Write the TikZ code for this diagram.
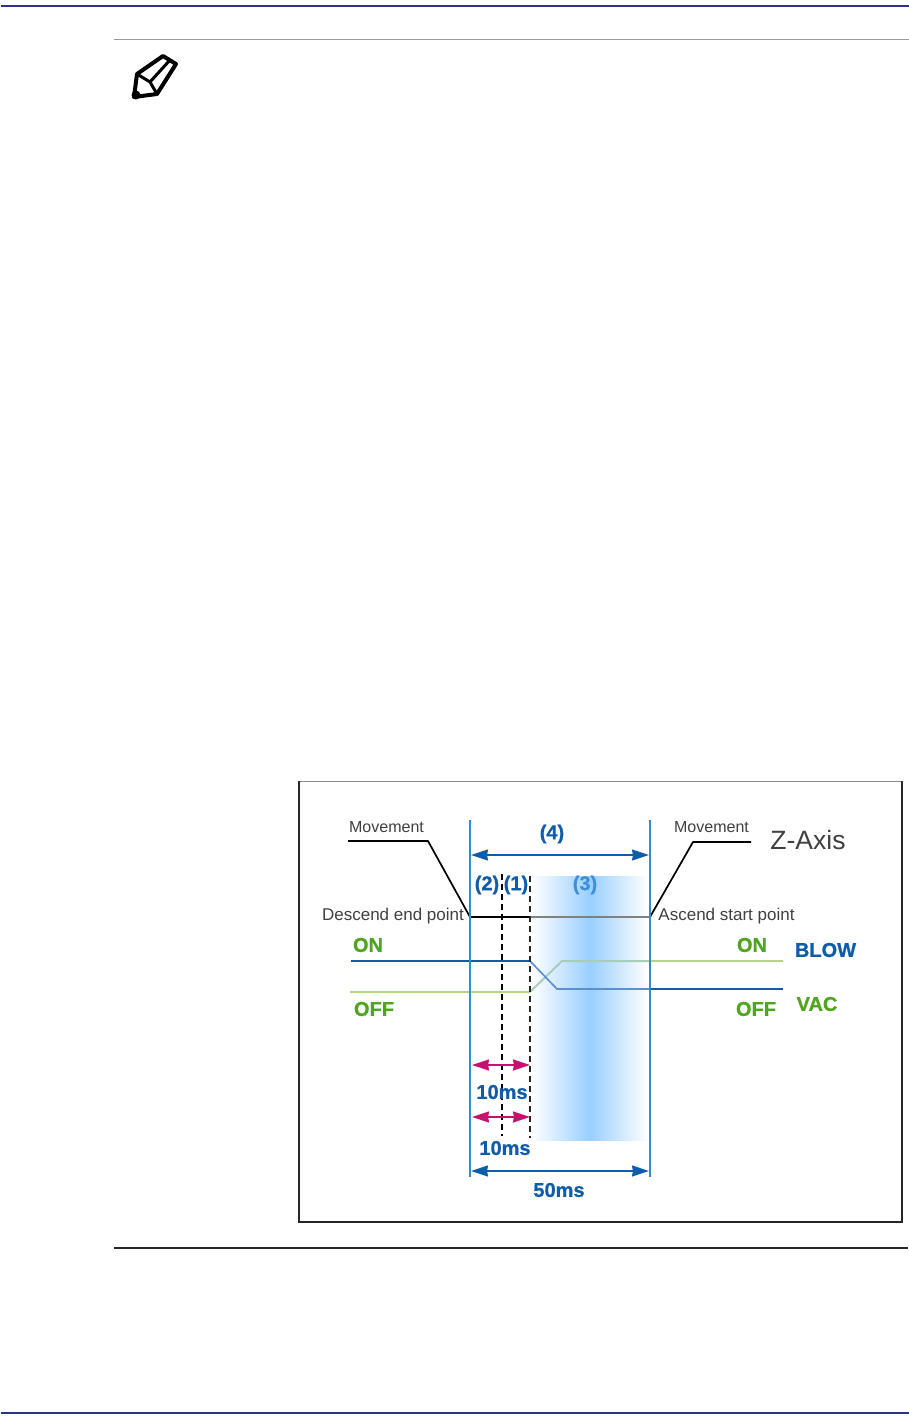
\documentclass[tikz,border=0pt]{standalone}
\usepackage{fontspec}
\setmainfont{Liberation Sans}
\newfontfamily\hv[BoldFeatures={FakeBold=0.7}]{Liberation Sans}
\usetikzlibrary{arrows.meta}
\definecolor{navy}{HTML}{2B2F8F}
\definecolor{vline}{HTML}{2E8FD0}
\definecolor{deepb}{HTML}{0F5CA8}
\definecolor{midb}{HTML}{3F8FD8}
\definecolor{inband}{HTML}{5F8FD0}
\definecolor{grn}{HTML}{4FA51E}
\definecolor{lgrn}{HTML}{B5D68A}
\definecolor{fgrn}{HTML}{A9CDBB}
\definecolor{mag}{HTML}{C8106E}
\definecolor{skyb}{HTML}{99CFFF}
\tikzset{
  lbl/.style={inner sep=0pt,font=\fontsize{16}{16}\selectfont,text=black!75},
  boldb/.style={inner sep=0pt,font=\hv\bfseries\fontsize{20}{20}\selectfont,text=deepb},
  boldg/.style={inner sep=0pt,font=\hv\bfseries\fontsize{20}{20}\selectfont,text=grn},
  guide/.style={vline,line width=2pt},
  dashone/.style={black,line width=2pt,dash pattern=on 6pt off 4pt},
  dim/.style={deepb,line width=1.5pt,{Stealth[length=17pt,width=11pt,inset=1pt]}-{Stealth[length=17pt,width=11pt,inset=1pt]}},
  dimm/.style={mag,line width=1.5pt,{Stealth[length=17pt,width=11pt,inset=1pt]}-{Stealth[length=17pt,width=11pt,inset=1pt]}},
}
\begin{document}
\begin{tikzpicture}[x=1pt,y=-1pt]
\useasboundingbox (0,0) rectangle (909,1424);
\fill[white] (0,0) rectangle (909,1424);
% page rules
\coordinate (tl) at (1,5.7); \coordinate (tr) at (909,5.7);
\coordinate (bl) at (1,1412.8); \coordinate (br) at (909,1412.8);
\draw[navy,line width=1.7pt] (tl) -- (tr);
\draw[navy,line width=1.7pt] (bl) -- (br);
\coordinate (nl) at (114,39.5); \coordinate (nr) at (909,39.5);
\draw[black!40,line width=1pt] (nl) -- (nr);
\coordinate (el) at (114,1248); \coordinate (er) at (908,1248);
\draw[black!85,line width=1.5pt] (el) -- (er);
% pencil icon
\draw[black,line width=4pt,line join=round,fill=white]
  (163,56) -- (176,64) -- (157,94) -- (134,97) -- (137,74) -- cycle;
\draw[black,line width=3pt,line join=round] (137,74) -- (150,82) -- (157,94);
\draw[black,line width=3pt] (150,82) -- (170,60);
\fill[black] (136,95) circle (4.5pt);
% frame
\node[draw=black!45,line width=1pt,minimum width=602.5pt,minimum height=439.5pt,inner sep=0pt,anchor=north west] (frame) at (298.5,781) {};
\draw[black!85,line width=2pt,line join=miter] (frame.north west) -- (frame.south west) -- (frame.south east) -- (frame.north east);
% shaded band
\shade[left color=white,right color=skyb] (531,876) rectangle (590,1140);
\shade[left color=skyb,right color=white] (590,876) rectangle (648,1140);
% Z-axis profile
\coordinate (m1) at (348,841); \coordinate (m2) at (428,841);
\coordinate (d) at (470,917); \coordinate (c) at (530,917);
\coordinate (a) at (650,917);
\coordinate (m3) at (693,842); \coordinate (m4) at (751,842);
\draw[black,line width=1.7pt,line join=round] (m1) -- (m2) -- (d) -- (c);
\draw[black!50,line width=1.5pt] (c) -- (a);
\draw[black,line width=1.7pt,line join=round] (a) -- (m3) -- (m4);
% signals
\coordinate (b1) at (351,961); \coordinate (b2) at (530,961); \coordinate (b3) at (557,989); \coordinate (b5) at (650,989); \coordinate (b4) at (783,989);
\coordinate (g1) at (350,992); \coordinate (g2) at (530,992); \coordinate (g3) at (562,961); \coordinate (g5) at (650,961); \coordinate (g4) at (783,961);
\draw[lgrn,line width=2pt] (g1) -- (g2);
\draw[fgrn,line width=2pt,line join=round] (g2) -- (g3) -- (g5);
\draw[lgrn,line width=2pt] (g5) -- (g4);
\draw[deepb,line width=2pt] (b1) -- (b2);
\draw[inband,line width=1.7pt,line join=round] (b2) -- (b3) -- (b5);
\draw[deepb,line width=1.7pt] (b5) -- (b4);
% guides
\coordinate (v1t) at (470,820); \coordinate (v1b) at (470,1177);
\coordinate (v2t) at (650,820); \coordinate (v2b) at (650,1177);
\draw[guide] (v1t) -- (v1b);
\draw[guide] (v2t) -- (v2b);
\coordinate (d1t) at (502,874); \coordinate (d1b) at (502,1136);
\coordinate (d2t) at (530,876); \coordinate (d2b) at (530,1138);
\draw[dashone] (d1t) -- (d1b);
\draw[dashone,black!85] (d2t) -- (d2b);
% dimensions
\coordinate (ar4l) at (471,855); \coordinate (ar4r) at (649,855);
\draw[dim] (ar4l) -- (ar4r);
\coordinate (ar50l) at (471,1171); \coordinate (ar50r) at (649,1171);
\draw[dim] (ar50l) -- (ar50r);
\coordinate (ar1l) at (472,1065); \coordinate (ar1r) at (530,1065);
\draw[dimm] (ar1l) -- (ar1r);
\coordinate (ar2l) at (472,1117); \coordinate (ar2r) at (530,1117);
\draw[dimm] (ar2l) -- (ar2r);
% labels
\node[lbl] (t1) at (386.5,827) {Movement};
\node[lbl] (t2) at (711.5,827) {Movement};
\node[inner sep=0pt,font=\fontsize{26.5}{26.5}\selectfont,text=black!75] (t3) at (808,840) {Z-Axis};
\node[lbl,font=\fontsize{17}{17}\selectfont] (t4) at (393,916) {Descend end point};
\node[lbl,font=\fontsize{17}{17}\selectfont] (t5) at (726.5,916) {Ascend start point};
\node[boldb] (n4) at (552,834) {(4)};
\node[boldb] (n2) at (487,885) {(2)};
\node[boldb] (n1) at (516,885) {(1)};
\node[boldb,text=midb] (n3) at (585,885) {(3)};
\node[boldg] (on1) at (368,945) {ON};
\node[boldg] (off1) at (374,1009) {OFF};
\node[boldg] (on2) at (752,945) {ON};
\node[boldg] (off2) at (756,1009) {OFF};
\node[boldb] (blow) at (825.5,950) {BLOW};
\node[boldg] (vac) at (817,1004) {VAC};
\node[boldb] (ms1) at (502,1092) {10ms};
\node[boldb] (ms2) at (505,1148) {10ms};
\node[boldb] (ms3) at (559,1190) {50ms};
\end{tikzpicture}
\end{document}
